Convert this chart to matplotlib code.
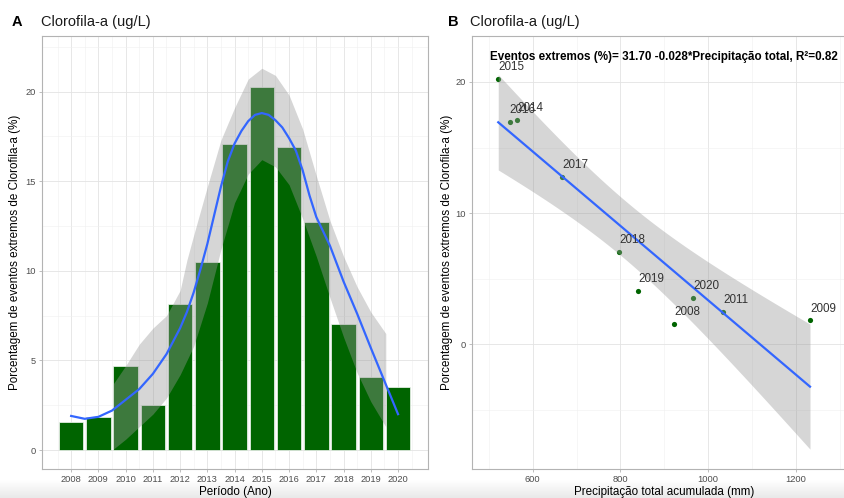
import numpy as np
import matplotlib
matplotlib.use('Agg')
import matplotlib.pyplot as plt
from matplotlib.ticker import FixedLocator

plt.rcParams['font.family'] = ['Liberation Sans', 'DejaVu Sans']

# ---------------- dados painel A (barras por ano) ----------------
anos = [2008, 2009, 2010, 2011, 2012, 2013, 2014, 2015, 2016, 2017, 2018, 2019, 2020]
pct_eventos = [1.56, 1.83, 4.67, 2.5, 8.16, 10.5, 17.1, 20.26, 16.93, 12.74, 7.04, 4.06, 3.54]

# curva loess
loess_x = [2008, 2008.5, 2009, 2009.5, 2010, 2010.5, 2011, 2011.5, 2012, 2012.25, 2012.5, 2012.75,
           2013, 2013.25, 2013.5, 2013.75, 2014, 2014.25, 2014.5, 2014.75, 2015, 2015.25, 2015.5,
           2015.75, 2016, 2016.25, 2016.5, 2016.75, 2017, 2017.5, 2018, 2018.5, 2019, 2019.5, 2020]
loess_y = [1.9, 1.74, 1.85, 2.2, 2.8, 3.4, 4.25, 5.35, 6.8, 7.7, 8.8, 10.1,
           11.5, 13.1, 14.7, 16.1, 17.1, 17.8, 18.35, 18.7, 18.8, 18.7, 18.4,
           18.0, 17.4, 16.7, 15.6, 14.2, 13.0, 11.4, 9.4, 7.6, 5.7, 3.85, 2.0]

# faixa de confianca da loess
faixa_x = [2009.55, 2010, 2010.5, 2011, 2011.5, 2012, 2012.25, 2012.5, 2013, 2013.5, 2014, 2014.5,
           2015, 2015.5, 2016, 2016.5, 2017, 2017.5, 2018, 2018.5, 2019, 2019.55]
faixa_inf = [0.05, 0.6, 1.3, 2.0, 2.9, 4.2, 5.0, 5.8, 8.2, 11.2, 13.8, 15.4,
             16.2, 15.8, 14.8, 12.9, 10.8, 8.5, 6.3, 4.3, 2.7, 1.3]
faixa_sup = [3.7, 4.7, 5.9, 6.8, 7.5, 8.9, 10.6, 12.0, 14.7, 17.3, 19.1, 20.7,
             21.3, 20.9, 19.8, 17.9, 15.3, 12.8, 10.8, 9.1, 7.7, 6.5]

# ---------------- dados painel B (precipitacao x eventos) ----------------
rotulos_b = ['2015', '2016', '2014', '2017', '2018', '2019', '2020', '2011', '2008', '2009']
precip = [521.5, 548, 565, 667.5, 797.5, 841, 966.3, 1034.7, 922, 1232]
eventos_b = [20.26, 16.93, 17.1, 12.74, 7.04, 4.06, 3.54, 2.5, 1.56, 1.83]

# ---------------- estilo ----------------
verde = '#006400'
azul = '#3366FF'
cinza_faixa = '#999999'
cor_borda = '#B3B3B3'
cor_tick = '#4D4D4D'
tam_tick = 6.7
tam_titulo_eixo = 8.4

W, H = 845, 498
fig = plt.figure(figsize=(W / 100, H / 100), dpi=100)

# faixa cinza no rodape (sombra da captura)
ax_fundo = fig.add_axes([0, 0, 1, 18 / H])
grad = np.linspace(0, 1, 50).reshape(-1, 1)
ax_fundo.imshow(grad, aspect='auto', cmap=matplotlib.colors.LinearSegmentedColormap.from_list(
    'g', ['#E9E9E9', '#FFFFFF']), origin='lower', extent=[0, 1, 0, 1])
ax_fundo.axis('off')
ax_fundo.set_zorder(-5)


def estilo_painel(ax):
    for s in ax.spines.values():
        s.set_color(cor_borda)
        s.set_linewidth(0.8)
    ax.set_facecolor('none')
    ax.grid(True, which='major', color='#E3E3E3', linewidth=0.6, zorder=0)
    ax.grid(True, which='minor', color='#EFEFEF', linewidth=0.4, zorder=0)
    ax.set_axisbelow(True)
    ax.tick_params(which='major', length=2.5, width=0.6, color=cor_borda,
                   labelsize=tam_tick, labelcolor=cor_tick, pad=2)
    ax.tick_params(which='minor', length=0)


# ======================= PAINEL A =======================
axA = fig.add_axes([42 / W, 29 / H, 386 / W, 433 / H])
estilo_painel(axA)
axA.bar(anos, pct_eventos, width=0.9, color=verde, edgecolor='#F4F8F4', linewidth=0.5, zorder=2)
axA.fill_between(faixa_x, faixa_inf, faixa_sup, color=cinza_faixa, alpha=0.4, linewidth=0, zorder=3)
axA.plot(loess_x, loess_y, color=azul, linewidth=1.6, zorder=4)
axA.set_xlim(2006.93, 2021.1)
axA.set_ylim(-1.06, 23.1)
axA.xaxis.set_major_locator(FixedLocator(anos))
axA.xaxis.set_minor_locator(FixedLocator([a + 0.5 for a in range(2007, 2021)]))
axA.yaxis.set_major_locator(FixedLocator([0, 5, 10, 15, 20]))
axA.yaxis.set_minor_locator(FixedLocator([2.5, 7.5, 12.5, 17.5, 22.5]))
axA.set_xlabel('Período (Ano)', fontsize=tam_titulo_eixo)
axA.xaxis.set_label_coords(0.5, -0.039)
axA.set_ylabel('Porcentagem de eventos extremos de Clorofila-a (%)', fontsize=tam_titulo_eixo)
axA.yaxis.set_label_coords(-0.054, 0.5)

# ======================= PAINEL B =======================
axB = fig.add_axes([471.7 / W, 29 / H, 384.6 / W, 433 / H])
estilo_painel(axB)
axB.spines['right'].set_visible(False)
axB.scatter(precip, eventos_b, s=14, color=verde, linewidths=0, zorder=2)

# ajuste linear e intervalo de confianca (como geom_smooth(method='lm'))
xp = np.array(precip)
yp = np.array(eventos_b)
b1, b0 = np.polyfit(xp, yp, 1)
xs = np.linspace(xp.min(), xp.max(), 100)
ys = b0 + b1 * xs
res = yp - (b0 + b1 * xp)
n = len(xp)
s_res = np.sqrt(np.sum(res ** 2) / (n - 2))
sxx = np.sum((xp - xp.mean()) ** 2)
se = s_res * np.sqrt(1 / n + (xs - xp.mean()) ** 2 / sxx)
t_crit = 2.306  # t(0.975, 8 gl)
axB.fill_between(xs, ys - t_crit * se, ys + t_crit * se, color=cinza_faixa, alpha=0.4,
                 linewidth=0, zorder=3)
axB.plot(xs, ys, color=azul, linewidth=1.6, zorder=4)

for rot, xv, yv in zip(rotulos_b, precip, eventos_b):
    axB.annotate(rot, (xv, yv), xytext=(0, 6.3), textcoords='offset points',
                 ha='left', va='baseline', fontsize=8.4, color='#333333', zorder=5)

axB.text(0.5, 0.952, 'Eventos extremos (%)= 31.70 -0.028*Precipitação total, R²=0.82',
         transform=axB.transAxes, ha='center', va='center', fontsize=8.4,
         fontweight='bold', color='black', zorder=6)

axB.set_xlim(461, 1337.5)
axB.set_ylim(-9.5, 23.5)
axB.xaxis.set_major_locator(FixedLocator([600, 800, 1000, 1200]))
axB.xaxis.set_minor_locator(FixedLocator([500, 700, 900, 1100, 1300]))
axB.yaxis.set_major_locator(FixedLocator([0, 10, 20]))
axB.yaxis.set_minor_locator(FixedLocator([-5, 5, 15]))
axB.set_xlabel('Precipitação total acumulada (mm)', fontsize=tam_titulo_eixo)
axB.xaxis.set_label_coords(0.5, -0.039)
axB.set_ylabel('Porcentagem de eventos extremos de Clorofila-a (%)', fontsize=tam_titulo_eixo)
axB.yaxis.set_label_coords(-0.049, 0.5)

# ---------------- titulos ----------------
fig.text(12 / W, 1 - 22 / H, 'A', fontsize=10.5, fontweight='bold', va='center', ha='left')
fig.text(41 / W, 1 - 22 / H, 'Clorofila-a (ug/L)', fontsize=10.5, va='center', ha='left', color='#1A1A1A')
fig.text(448 / W, 1 - 22 / H, 'B', fontsize=10.5, fontweight='bold', va='center', ha='left')
fig.text(470 / W, 1 - 22 / H, 'Clorofila-a (ug/L)', fontsize=10.5, va='center', ha='left', color='#1A1A1A')

fig.savefig('out.png', dpi=100)
